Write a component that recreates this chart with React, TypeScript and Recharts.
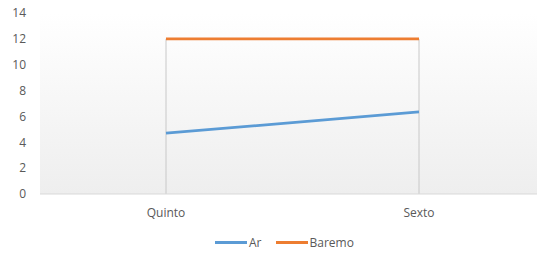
import React from 'react';
import { LineChart, Line, XAxis, YAxis, CartesianGrid, ReferenceLine } from 'recharts';

const categories = ['Quinto', 'Sexto'];
const arValues = [4.7, 6.35];
const baremoValues = [12, 12];
const yTicks = [0, 2, 4, 6, 8, 10, 12, 14];

const seriesInfo = [
    { key: 'ar', name: 'Ar', color: '#5b9bd5' },
    { key: 'baremo', name: 'Baremo', color: '#ed7d31' },
];

const chartData = categories.map((c, i) => ({
    name: c,
    ar: arValues[i],
    baremo: baremoValues[i],
}));

const FONT = '"Open Sans", sans-serif';

// Excel-style legend: short thick line then label
const LegendRow: React.FC = () => (
    <div style={{ position: 'absolute', top: 234, left: 215, display: 'flex', alignItems: 'center', fontFamily: FONT, fontSize: 12, color: '#595959' }}>
        {seriesInfo.map(s => (
            <div key={s.key} style={{ display: 'flex', alignItems: 'center', marginRight: 14 }}>
                <span style={{ display: 'inline-block', width: 32, height: 3, background: s.color, marginRight: 2 }} />
                <span>{s.name}</span>
            </div>
        ))}
    </div>
);

const App: React.FC = () => {
    return (
        <div style={{ position: 'absolute', left: 0, top: 0, width: 537, height: 258, overflow: 'hidden', background: '#fff' }}>
            <LineChart
                width={560}
                height={258}
                data={chartData}
                margin={{ top: 13, right: 14, bottom: 0, left: 0 }}
            >
                <defs>
                    <linearGradient id="plotBg" x1="0" y1="0" x2="0" y2="1">
                        <stop offset="0%" stopColor="#ffffff" />
                        <stop offset="100%" stopColor="#eeeeee" />
                    </linearGradient>
                </defs>
                <CartesianGrid horizontal={false} vertical={false} fill="url(#plotBg)" />
                <XAxis
                    dataKey="name"
                    height={64}
                    padding={{ left: 126, right: 127 }}
                    tickLine={false}
                    axisLine={{ stroke: '#d9d9d9' }}
                    tick={{ fill: '#595959', fontSize: 12, fontFamily: FONT }}
                    tickMargin={8}
                />
                <YAxis
                    width={40}
                    domain={[0, 14]}
                    ticks={yTicks}
                    tickLine={false}
                    axisLine={false}
                    tick={{ fill: '#595959', fontSize: 12, fontFamily: FONT }}
                    tickMargin={8}
                />
                {categories.map((c, i) => (
                    <ReferenceLine
                        key={c}
                        segment={[{ x: c, y: 0 }, { x: c, y: Math.max(arValues[i], baremoValues[i]) }]}
                        stroke="#c8c8c8"
                        strokeWidth={1}
                    />
                ))}
                {seriesInfo.map(s => (
                    <Line
                        key={s.key}
                        type="linear"
                        dataKey={s.key}
                        name={s.name}
                        stroke={s.color}
                        strokeWidth={2.75}
                        dot={false}
                        activeDot={false}
                        isAnimationActive={false}
                    />
                ))}
            </LineChart>
            <LegendRow />
        </div>
    );
};

export default App;
